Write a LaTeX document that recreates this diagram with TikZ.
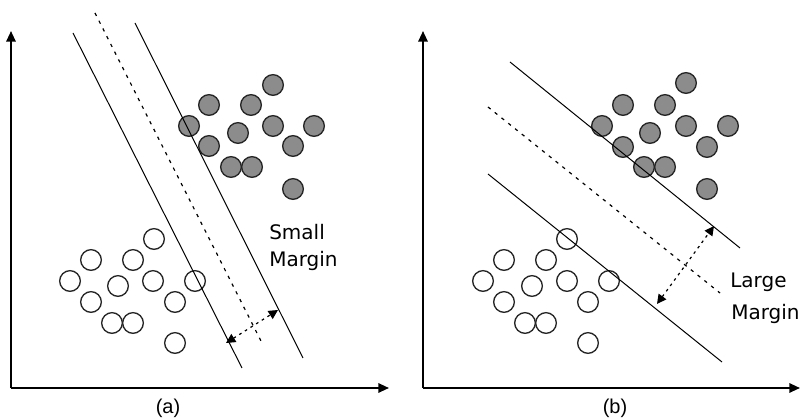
\documentclass[tikz,border=0pt]{standalone}
\usepackage{fontspec}
\setmainfont{DejaVu Sans}
\newfontfamily\capfont{Liberation Sans}
\usetikzlibrary{arrows.meta}
\begin{document}
\begin{tikzpicture}[x=0.75pt,y=-0.75pt,
  axis/.style={line width=1.5pt,-{Triangle[length=8pt,width=7pt]}},
  sep/.style={line width=0.75pt},
  mid/.style={line width=0.9pt,dash pattern=on 2.5pt off 4pt},
  marg/.style={line width=0.9pt,dash pattern=on 2pt off 3pt,{Triangle[length=7pt,width=7pt]}-{Triangle[length=7pt,width=7pt]}},
  fpt/.style={circle,draw=black!85,fill=black!45,line width=1pt,minimum size=15.5pt,inner sep=0pt},
  opt/.style={circle,draw=black!85,fill=white,line width=1pt,minimum size=15.5pt,inner sep=0pt},
  lbl/.style={font=\fontsize{15pt}{18pt}\selectfont,anchor=base west,inner sep=0pt},
  captext/.style={font=\capfont\fontsize{15pt}{18pt}\selectfont,inner sep=0pt}]
\useasboundingbox (0,0) rectangle (801,420);
% ---------- panel (a) ----------
\coordinate (oa) at (11,388);
\coordinate (ya) at (11,31);
\coordinate (xa) at (389,388);
\draw[axis] (oa) -- (ya);
\draw[axis] (oa) -- (xa);
\foreach \x/\y [count=\i] in {273/85,209/105,251/105,189/126,238/133,273/126,314/126,209/146,293/146,231/167,252/167,293/189}
  \node[fpt] (fa\i) at (\x,\y) {};
\foreach \x/\y [count=\i] in {154/239,91/260,133/260,70/281,118/286,153/281,195/281,91/302,175/302,112/323,133/323,175/343}
  \node[opt] (oa\i) at (\x,\y) {};
\coordinate (la1) at (73,33);   \coordinate (la2) at (242,368);
\coordinate (ma1) at (95,13);   \coordinate (ma2) at (262,343);
\coordinate (ra1) at (135,23);  \coordinate (ra2) at (303,358);
\draw[sep] (la1) -- (la2);
\draw[mid] (ma1) -- (ma2);
\draw[sep] (ra1) -- (ra2);
\coordinate (pa1) at (226,343);
\coordinate (pa2) at (278,310);
\draw[marg] (pa1) -- (pa2);
\node[lbl] (sm) at (269,240) {Small};
\node[lbl] (mg) at (269,267) {Margin};
\node[captext] (capa) at (168,408) {(a)};
% ---------- panel (b) ----------
\coordinate (ob) at (423,388);
\coordinate (yb) at (423,31);
\coordinate (xb) at (800,388);
\draw[axis] (ob) -- (yb);
\draw[axis] (ob) -- (xb);
\foreach \x/\y [count=\i] in {686/83,623/105,665/105,602/126,650/133,686/126,728/126,623/147,707/147,644/167,665/167,707/189}
  \node[fpt] (fb\i) at (\x,\y) {};
\foreach \x/\y [count=\i] in {567/239,504/260,546/260,483/281,532/286,567/281,609/281,504/302,588/302,525/323,546/323,588/343}
  \node[opt] (ob\i) at (\x,\y) {};
\coordinate (ub1) at (510,62);  \coordinate (ub2) at (740,248);
\coordinate (mb1) at (488,107); \coordinate (mb2) at (720,293);
\coordinate (lb1) at (488,174); \coordinate (lb2) at (722,362);
\draw[sep] (ub1) -- (ub2);
\draw[mid] (mb1) -- (mb2);
\draw[sep] (lb1) -- (lb2);
\coordinate (pb1) at (657,304);
\coordinate (pb2) at (714,226);
\draw[marg] (pb1) -- (pb2);
\node[lbl] (lg) at (730,288) {Large};
\node[lbl] (mg2) at (731,320) {Margin};
\node[captext] (capb) at (615,408) {(b)};
\end{tikzpicture}
\end{document}
